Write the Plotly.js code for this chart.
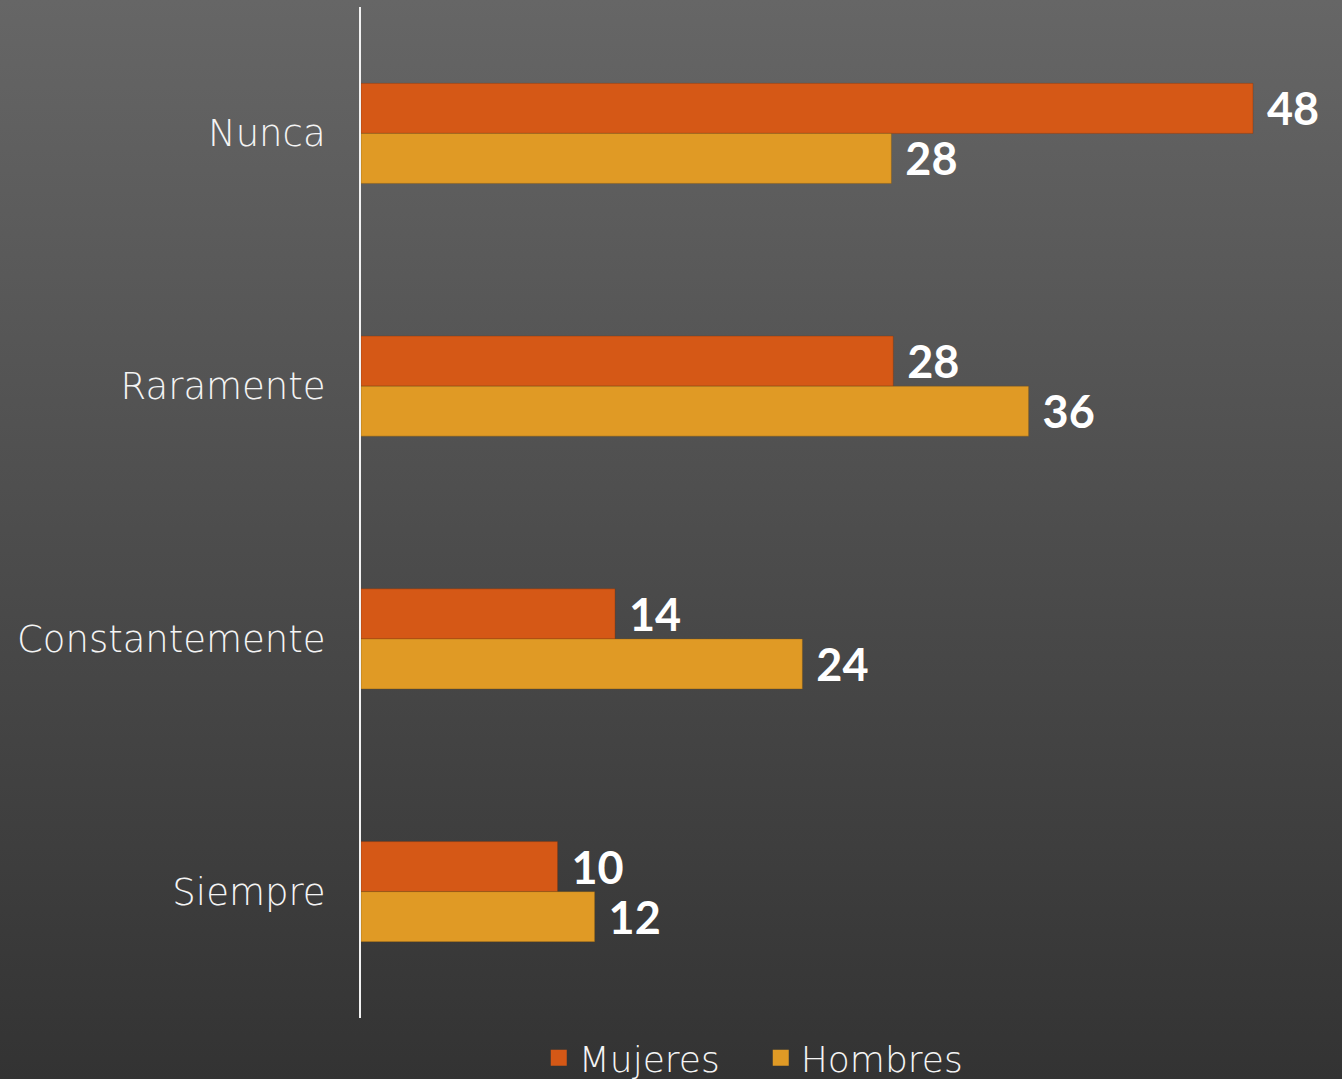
<!DOCTYPE html>
<html>
<head>
<meta charset="utf-8">
<script src="https://cdn.plot.ly/plotly-3.0.1.min.js"></script>
<style>
html, body { margin:0; padding:0; width:1342px; height:1079px; overflow:hidden;
  background: linear-gradient(to bottom, #666666 0%, #333333 100%); }
#chart { width:1342px; height:1079px; }
</style>
</head>
<body>
<div id="chart"></div>
<script>
const categories = ["Nunca", "Raramente", "Constantemente", "Siempre"];
const mujeresValues = [48.1, 28.7, 13.7, 10.6];
const hombresValues = [28.6, 36.0, 23.8, 12.6];
const mujeresLabels = ["48", "28", "14", "10"];
const hombresLabels = ["28", "36", "24", "12"];
const seriesNames = ["Mujeres", "Hombres"];
const colors = ["#D55816", "#E09A25"];

const labelFont = {family: "Lato, 'Open Sans', sans-serif", size: 45, color: "#ffffff", weight: 700};
const thinFont = "'DejaVu Sans', sans-serif";

const traces = [
  {type: "bar", orientation: "h", name: seriesNames[0], y: categories, x: mujeresValues,
   marker: {color: colors[0], line: {color: "rgba(120,50,10,0.6)", width: 0.6}},
   text: mujeresLabels.map(s => " " + s), textposition: "outside", textfont: labelFont,
   constraintext: "none", cliponaxis: false, showlegend: false, hoverinfo: "x+y"},
  {type: "bar", orientation: "h", name: seriesNames[1], y: categories, x: hombresValues,
   marker: {color: colors[1], line: {color: "rgba(120,80,20,0.6)", width: 0.6}},
   text: hombresLabels.map(s => " " + s), textposition: "outside", textfont: labelFont,
   constraintext: "none", cliponaxis: false, showlegend: false, hoverinfo: "x+y"},
  {type: "scatter", mode: "markers", name: seriesNames[0], x: [null], y: [null],
   marker: {symbol: "square", size: 20, color: colors[0]}, showlegend: true},
  {type: "scatter", mode: "markers", name: seriesNames[1], x: [null], y: [null],
   marker: {symbol: "square", size: 20, color: colors[1]}, showlegend: true}
];

const layout = {
  width: 1342, height: 1079,
  margin: {l: 361, r: 0, t: 7, b: 61, autoexpand: false},
  paper_bgcolor: "rgba(0,0,0,0)",
  plot_bgcolor: "rgba(0,0,0,0)",
  barmode: "group",
  bargap: 0.604,
  bargroupgap: 0,
  xaxis: {range: [0, 52.9], showgrid: false, zeroline: false, showticklabels: false,
          showline: false, ticks: "", fixedrange: true, automargin: false},
  yaxis: {autorange: "reversed", type: "category", showgrid: false, zeroline: false,
          showline: true, linecolor: "#f2f2f2", linewidth: 2, automargin: false,
          ticks: "outside", ticklen: 26, tickcolor: "rgba(0,0,0,0)",
          tickfont: {family: thinFont, size: 37, color: "#f4f4f4", weight: 200}},
  showlegend: true,
  legend: {orientation: "h", x: 0.1812, xanchor: "left", y: -0.0395, yanchor: "middle",
           font: {family: thinFont, size: 36, color: "#f4f4f4", weight: 200},
           itemsizing: "trace", bgcolor: "rgba(0,0,0,0)", traceorder: "normal",
           entrywidth: 177, entrywidthmode: "pixels"}
};

Plotly.newPlot("chart", traces, layout, {displayModeBar: false, staticPlot: true});
</script>
</body>
</html>
